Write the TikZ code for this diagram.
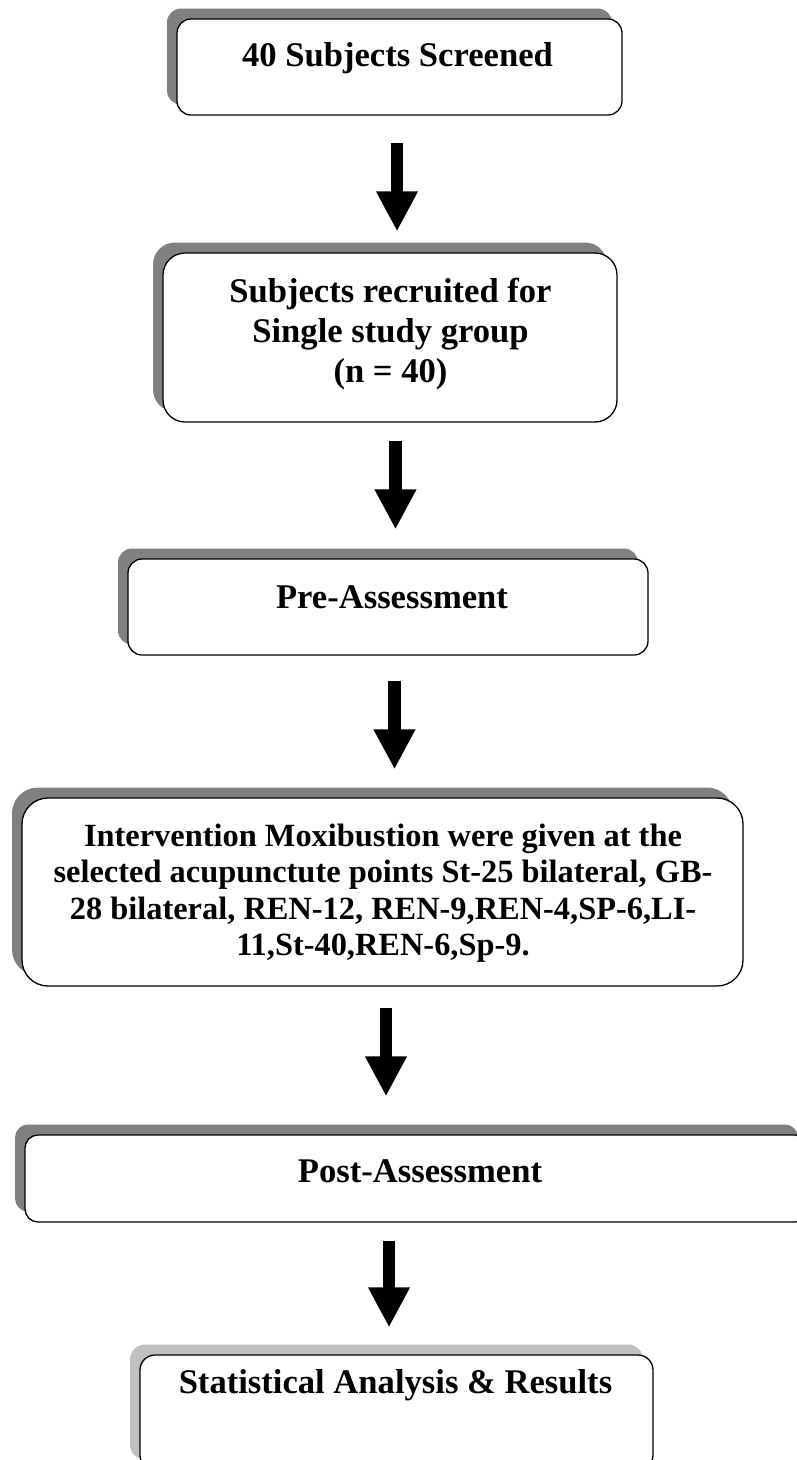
\documentclass[tikz,border=0pt]{standalone}
\usepackage{fontspec}
\setmainfont{Liberation Serif}
\usetikzlibrary{arrows.meta, positioning, calc, shadows}
\definecolor{ShadowGray}{HTML}{808080}
\definecolor{ShadowLight}{HTML}{C0C0C0}

\begin{document}
\begin{tikzpicture}[
            x=1pt, y=-1pt,
            stage/.style = {rectangle, draw=black, fill=white, line width=1.3pt, inner sep=0pt, rounded corners=#1},
            backshadow/.style = {drop shadow={shadow xshift=-10pt, shadow yshift=10.5pt, opacity=1, fill=#1}},
            caption/.style = {anchor=base, align=center, inner sep=0pt, font=\fontsize{34.6}{40}\selectfont\bfseries},
            smallcaption/.style = {caption, font=\fontsize{32.4}{36.5}\selectfont\bfseries},
            flow/.style = {-{Triangle[width=39pt, length=40pt]}, line width=12.5pt, black}
        ]
            \useasboundingbox (0,0) rectangle (797,1460);
            \clip (0,0) rectangle (797,1460);

            % stages
            \node [stage=14pt, backshadow=ShadowGray, minimum width=445pt, minimum height=96pt] (screen) at (399.5,67) {};
            \node [stage=22pt, backshadow=ShadowGray, minimum width=454pt, minimum height=169pt] (recruit) at (390,337.5) {};
            \node [stage=14pt, backshadow=ShadowGray, minimum width=520pt, minimum height=96pt] (pre) at (388,607) {};
            \node [stage=26pt, backshadow=ShadowGray, minimum width=721pt, minimum height=188pt] (moxa) at (382.5,892) {};
            \node [stage=13pt, backshadow=ShadowGray, minimum width=783pt, minimum height=87pt] (post) at (416.5,1178.5) {};
            \node [stage=15pt, backshadow=ShadowLight, minimum width=513pt, minimum height=115pt] (stats) at (396.5,1412.5) {};

            % texts (base = last line)
            \node [caption] (screentxt) at ($(screen.north)+(-2,48)$) {40 Subjects Screened};
            \node [caption] (recruittxt) at ($(recruit.north)+(0.5,130)$) {Subjects recruited for\\ Single study group\\ (n = 40)};
            \node [caption] (pretxt) at ($(pre.north)+(4,50)$) {Pre-Assessment};
            \node [smallcaption] (moxatxt) at ($(moxa.north)+(0.5,158.5)$) {Intervention Moxibustion were given at the\\ selected acupunctute points St-25 bilateral, GB-\\ 28 bilateral, REN-12, REN-9,REN-4,SP-6,LI-\\ 11,St-40,REN-6,Sp-9.};
            \node [caption] (posttxt) at ($(post.north)+(3.5,48)$) {Post-Assessment};
            \node [caption] (statstxt) at ($(stats.north)+(-1,39)$) {Statistical Analysis \& Results};

            % arrows
            \draw [flow] ($(screen.south)+(-2.5,27)$) -- ($(screen.south |- recruit.north)+(-2.5,-21)$);
            \draw [flow] ($(recruit.south)+(5.5,18)$) -- ($(recruit.south |- pre.north)+(5.5,-29)$);
            \draw [flow] ($(pre.south)+(6.5,25)$) -- ($(pre.south |- moxa.north)+(6.5,-28)$);
            \draw [flow] ($(moxa.south)+(3.5,21)$) -- ($(moxa.south |- post.north)+(3.5,-38)$);
            \draw [flow] ($(post.south)+(-27.5,18)$) -- ($(post.south |- stats.north)+(-27.5,-27)$);
        \end{tikzpicture}
\end{document}
